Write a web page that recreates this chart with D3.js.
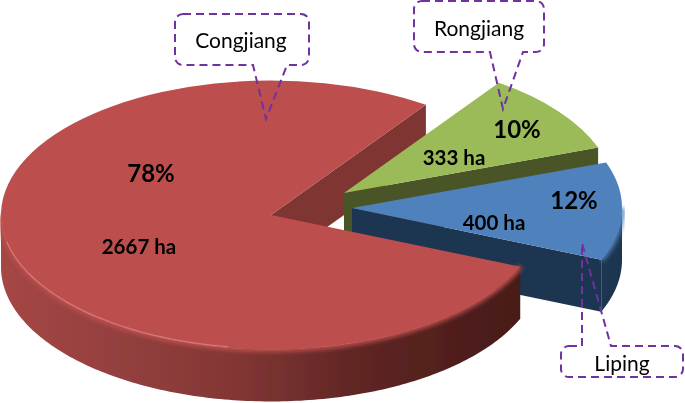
<!DOCTYPE html>
<html>
<head>
<meta charset="utf-8">
<script src="https://cdn.jsdelivr.net/npm/d3@7"></script>
<style>
  html, body { margin: 0; padding: 0; background: #fff; }
  svg { display: block; }
  text { font-family: Lato, "Open Sans", sans-serif; fill: #000; }
</style>
</head>
<body>
<svg id="chart" width="685" height="403"></svg>
<script>
// clockwise from the first cut
const counties = ['Rongjiang', 'Liping', 'Congjiang'];
const areas = [333, 400, 2667];
const shares = ['10%', '12%', '78%'];
const areaLabels = ['333 ha', '400 ha', '2667 ha'];

const W = 685, H = 403;
const RX = 270, TILT = 0.498, DEPTH = 52;
const FIRST_CUT = 35 * Math.PI / 180;

const topColor = d3.scaleOrdinal(counties, ['#9bbb59', '#4f81bd', '#bc4f4e']);
const wallColor = d3.scaleOrdinal(counties, ['#4a5527', '#1f3651', 'url(#red-wall)']);

// where each slice's apex ends up once pulled out of the pie
const apex = {
  Rongjiang: [344, 193],
  Liping: [352, 208],
  Congjiang: [271, 215]
};

// text placement, centre of each label
const sharePos = { Rongjiang: [517, 128], Liping: [574, 199], Congjiang: [151, 172] };
const areaPos = { Rongjiang: [454, 157], Liping: [494, 222], Congjiang: [139, 246] };

// dashed callouts: box + pointer
const callouts = [
  { name: 'Congjiang', x0: 175, x1: 309, y0: 14, y1: 65, side: 'bottom', t0: 253, t1: 287, tip: [266, 119], tx: 241, ty: 39 },
  { name: 'Rongjiang', x0: 414, x1: 544, y0: 1, y1: 52, side: 'bottom', t0: 490, t1: 523, tip: [503, 109], tx: 479, ty: 27 },
  { name: 'Liping', x0: 561, x1: 683, y0: 346, y1: 377, side: 'top', t0: 582, t1: 611, tip: [582, 243], tx: 622, ty: 362 }
];

const svg = d3.select('#chart');
const defs = svg.append('defs');

let redWall = defs.append('linearGradient')
  .attr('id', 'red-wall')
  .attr('gradientUnits', 'userSpaceOnUse')
  .attr('x1', 2).attr('x2', 521).attr('y1', 0).attr('y2', 0);
[[0, '#a54644'], [0.2, '#964140'], [0.45, '#823634'], [0.7, '#5e2523'], [1, '#471a18']].forEach(s => {
  redWall.append('stop').attr('offset', s[0]).attr('stop-color', s[1]);
});

defs.append('filter').attr('id', 'soft')
  .attr('x', '-10%').attr('y', '-10%').attr('width', '120%').attr('height', '120%')
  .append('feGaussianBlur').attr('stdDeviation', 2.2);
defs.append('filter').attr('id', 'edge')
  .attr('x', '-5%').attr('y', '-5%').attr('width', '110%').attr('height', '110%')
  .append('feGaussianBlur').attr('stdDeviation', 0.5);
defs.append('filter').attr('id', 'type')
  .attr('x', '-5%').attr('y', '-5%').attr('width', '110%').attr('height', '110%')
  .append('feGaussianBlur').attr('stdDeviation', 0.35);

let slices = d3.pie()
  .sort(null)
  .value(d => d)
  .startAngle(FIRST_CUT)
  .endAngle(FIRST_CUT + 2 * Math.PI)(areas)
  .map((s, i) => Object.assign(s, { name: counties[i] }));
let byName = name => slices.find(s => s.name === name);

let arc = d3.arc().innerRadius(0).outerRadius(RX);
let line = d3.line();

// point on a slice's rim, angle clockwise from north
function rim(name, a, drop = 0) {
  let c = apex[name];
  return [c[0] + RX * Math.sin(a), c[1] - RX * TILT * Math.cos(a) + drop];
}

function rimPoints(name, a0, a1, drop = 0) {
  let n = Math.max(2, Math.ceil((a1 - a0) * 60));
  return d3.range(n + 1).map(i => rim(name, a0 + (a1 - a0) * i / n, drop));
}

// the part of the outer wall facing the viewer (east point round to west point)
function outerWall(name) {
  let s = byName(name);
  let a0 = Math.max(s.startAngle, Math.PI / 2);
  let a1 = Math.min(s.endAngle, 3 * Math.PI / 2);
  return [a0, a1];
}

function drawOuterWall(name) {
  let [a0, a1] = outerWall(name);
  let pts = rimPoints(name, a0, a1).concat(rimPoints(name, a0, a1, DEPTH).reverse());
  layer.append('path')
    .attr('d', line(pts) + 'Z')
    .attr('fill', wallColor(name));
  // soft bevel where the wall meets the top face
  layer.append('path')
    .attr('d', line(rimPoints(name, a0, a1)))
    .attr('fill', 'none')
    .attr('stroke', topColor(name))
    .attr('stroke-width', 5)
    .attr('filter', 'url(#soft)');
}

// flat wall along one of the radial cuts
function drawCutWall(name, a, fill) {
  let c = apex[name];
  let e = rim(name, a);
  let pts = [c, e, [e[0], e[1] + DEPTH], [c[0], c[1] + DEPTH]];
  layer.append('path').attr('d', line(pts) + 'Z').attr('fill', fill);
}

function drawTop(name) {
  let c = apex[name];
  layer.append('path')
    .attr('transform', `translate(${c[0]} ${c[1]}) scale(1 ${TILT})`)
    .attr('d', arc(byName(name)))
    .attr('fill', topColor(name));
}

let layer = svg.append('g').attr('filter', 'url(#edge)');

// painter's order, back to front
drawCutWall('Congjiang', byName('Congjiang').endAngle, '#7f3433');

drawCutWall('Rongjiang', byName('Rongjiang').endAngle, wallColor('Rongjiang'));
drawTop('Rongjiang');

drawCutWall('Liping', byName('Liping').endAngle, wallColor('Liping'));
drawOuterWall('Liping');
drawTop('Liping');

drawOuterWall('Congjiang');
drawTop('Congjiang');

// light catch along the front rim of the big slice
layer.append('path')
  .attr('d', line(rimPoints('Congjiang', 3.3, 4.5, -1)))
  .attr('fill', 'none')
  .attr('stroke', '#e08c86')
  .attr('stroke-width', 1.2)
  .attr('stroke-opacity', 0.7);

function calloutPath(c) {
  let r = 8;
  let p = d3.path();
  p.moveTo(c.x0 + r, c.y0);
  if (c.side === 'top') {
    p.lineTo(c.t0, c.y0);
    p.lineTo(c.tip[0], c.tip[1]);
    p.lineTo(c.t1, c.y0);
  }
  p.lineTo(c.x1 - r, c.y0);
  p.arcTo(c.x1, c.y0, c.x1, c.y0 + r, r);
  p.lineTo(c.x1, c.y1 - r);
  p.arcTo(c.x1, c.y1, c.x1 - r, c.y1, r);
  if (c.side === 'bottom') {
    p.lineTo(c.t1, c.y1);
    p.lineTo(c.tip[0], c.tip[1]);
    p.lineTo(c.t0, c.y1);
  }
  p.lineTo(c.x0 + r, c.y1);
  p.arcTo(c.x0, c.y1, c.x0, c.y1 - r, r);
  p.lineTo(c.x0, c.y0 + r);
  p.arcTo(c.x0, c.y0, c.x0 + r, c.y0, r);
  p.closePath();
  return p.toString();
}

let ink = svg.append('g').attr('filter', 'url(#type)');

ink.selectAll('.callout').data(callouts)
  .enter()
  .append('path')
  .classed('callout', true)
  .attr('d', calloutPath)
  .attr('fill', 'none')
  .attr('stroke', '#7030a0')
  .attr('stroke-width', 2)
  .attr('stroke-dasharray', '8 5');

ink.selectAll('.callout-label').data(callouts)
  .enter()
  .append('text')
  .classed('callout-label', true)
  .attr('x', c => c.tx)
  .attr('y', c => c.ty)
  .attr('text-anchor', 'middle')
  .attr('dominant-baseline', 'central')
  .attr('font-size', 21)
  .text(c => c.name);

ink.selectAll('.share').data(counties)
  .enter()
  .append('text')
  .classed('share', true)
  .attr('x', n => sharePos[n][0])
  .attr('y', n => sharePos[n][1])
  .attr('text-anchor', 'middle')
  .attr('dominant-baseline', 'central')
  .attr('font-size', 24)
  .attr('font-weight', 700)
  .text((n, i) => shares[i]);

ink.selectAll('.area').data(counties)
  .enter()
  .append('text')
  .classed('area', true)
  .attr('x', n => areaPos[n][0])
  .attr('y', n => areaPos[n][1])
  .attr('text-anchor', 'middle')
  .attr('dominant-baseline', 'central')
  .attr('font-size', 20.5)
  .attr('font-weight', 700)
  .text((n, i) => areaLabels[i]);
</script>
</body>
</html>
